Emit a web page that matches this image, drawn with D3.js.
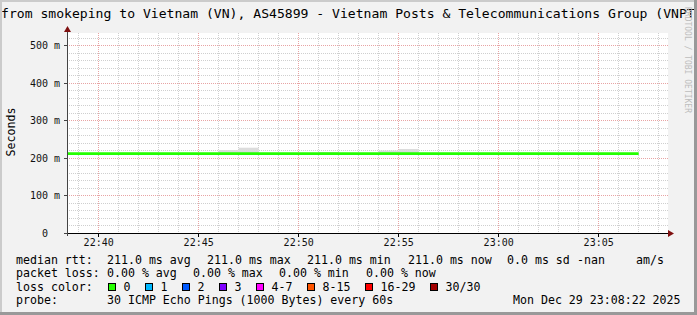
<!DOCTYPE html>
<html>
<head>
<meta charset="utf-8">
<script src="https://cdn.jsdelivr.net/npm/d3@7"></script>
<style>
  body { margin: 0; background: #f2f2f2; }
  svg text { font-family: "DejaVu Sans Mono", monospace; }
</style>
</head>
<body>
<svg id="chart" width="697" height="315"></svg>
<script>
// chart data
const stepTimes = ["22:38","22:39","22:40","22:41","22:42","22:43","22:44","22:45","22:46","22:47",
                   "22:48","22:49","22:50","22:51","22:52","22:53","22:54","22:55","22:56","22:57",
                   "22:58","22:59","23:00","23:01","23:02","23:03","23:04","23:05","23:06"];
const medianMs = [211,211,211,211,211,211,211,211,211,211,
                  211,211,211,211,211,211,211,211,211,211,
                  211,211,211,211,211,211,211,211,211];
// top of the smoke (slowest ping) per step
const smokeMaxMs = [211,211,211,214,214,211,211,211,220.7,226.9,
                    211,211,211,215.4,211,211,219.4,223.4,211,211,
                    211,211,211,211,211,211,211,211,211];
const smokeMinMs = [209,209,209,209,209,209,209,209,209,209,
                    209,209,209,209,209,209,209,209,209,209,
                    209,209,209,209,209,209,209,209,209];
const yTicks = [0, 0.1, 0.2, 0.3, 0.4, 0.5];
const xTickLabels = ["22:40","22:45","22:50","22:55","23:00","23:05"];

const title = "from smokeping to Vietnam (VN), AS45899 - Vietnam Posts & Telecommunications Group (VNPT)";
const rttStats = [["211.0 ms", "avg"], ["211.0 ms", "max"], ["211.0 ms", "min"], ["211.0 ms", "now"]];
const rttExtra = ["0.0 ms sd", "-nan", "am/s"];
const lossStats = [["0.00 %", "avg"], ["0.00 %", "max"], ["0.00 %", "min"], ["0.00 %", "now"]];
const lossLabels = ["0", "1", "2", "3", "4-7", "8-15", "16-29", "30/30"];
const lossColors = ["#26ff00", "#00b8ff", "#0059ff", "#7e00ff", "#ff00ff", "#ff5500", "#ff0000", "#a10000"];
const probeText = "30 ICMP Echo Pings (1000 Bytes) every 60s";
const stamp = "Mon Dec 29 23:08:22 2025";

const svg = d3.select('#chart');
const W = 697, H = 315;

let day = d3.timeParse('%Y-%m-%d %H:%M');
let toDate = function(t) { return day('2025-12-29 ' + t); };

// plot frame
const pLeft = 67, pRight = 667, pTop = 33, pBottom = 233;
let x = d3.scaleTime()
    .domain([new Date(2025, 11, 29, 22, 38, 25), new Date(2025, 11, 29, 23, 8, 25)])
    .range([pLeft, pRight]);
let y = d3.scaleLinear()
    .domain([0, 0.532])
    .range([pBottom, pTop]);

svg.append('rect').attr('width', W).attr('height', H).attr('fill', '#f2f2f2');

// canvas
svg.append('rect')
    .attr('x', pLeft).attr('y', pTop)
    .attr('width', pRight - pLeft + 1).attr('height', pBottom - pTop)
    .attr('fill', '#ffffff');

let grid = svg.append('g').attr('class', 'grid');

// minor vertical grid, every minute
let minutes = d3.timeMinute.range(x.domain()[0], x.domain()[1]);
grid.selectAll('.vminor')
    .data(minutes.filter(d => d.getMinutes() % 5 != 0))
    .enter().append('line')
    .attr('x1', d => Math.floor(x(d)) + 0.5).attr('x2', d => Math.floor(x(d)) + 0.5)
    .attr('y1', pTop).attr('y2', pBottom)
    .attr('stroke', '#cfcfcf').attr('stroke-dasharray', '1,1');

// minor horizontal grid, every 20 ms
let minorY = d3.range(0, 27).map(i => i * 0.02).filter(v => Math.round(v * 1000) % 100 != 0 && y(v) >= pTop);
grid.selectAll('.hminor')
    .data(minorY)
    .enter().append('line')
    .attr('x1', pLeft).attr('x2', pRight + 1)
    .attr('y1', d => Math.round(y(d)) + 0.5).attr('y2', d => Math.round(y(d)) + 0.5)
    .attr('stroke', '#cfcfcf').attr('stroke-dasharray', '1,1');

// major grid
grid.selectAll('.vmajor')
    .data(minutes.filter(d => d.getMinutes() % 5 == 0))
    .enter().append('line')
    .attr('x1', d => Math.floor(x(d)) + 0.5).attr('x2', d => Math.floor(x(d)) + 0.5)
    .attr('y1', pTop).attr('y2', pBottom)
    .attr('stroke', '#e8a4a4').attr('stroke-dasharray', '1,1');
grid.selectAll('.hmajor')
    .data(yTicks.filter(d => d > 0))
    .enter().append('line')
    .attr('x1', pLeft).attr('x2', pRight + 1)
    .attr('y1', d => Math.round(y(d)) + 0.5).attr('y2', d => Math.round(y(d)) + 0.5)
    .attr('stroke', '#e8a4a4').attr('stroke-dasharray', '1,1');

// smoke and median, one step per minute
let steps = stepTimes.map(function(t, i) {
    let start = toDate(t);
    return { start: start, end: d3.timeMinute.offset(start, 1),
             median: medianMs[i] / 1000, hi: smokeMaxMs[i] / 1000, lo: smokeMinMs[i] / 1000 };
});
let clipX = function(d) { return Math.max(pLeft, x(d)); };

svg.append('g').attr('class', 'smoke')
    .selectAll('rect')
    .data(steps)
    .enter().append('rect')
    .attr('x', d => clipX(d.start))
    .attr('width', d => x(d.end) - clipX(d.start))
    .attr('y', d => y(d.hi))
    .attr('height', d => y(d.lo) - y(d.hi))
    .attr('fill', '#dcdcdc');

let stepLine = d3.line()
    .x(d => d[0]).y(d => d[1]);
let pts = [];
steps.forEach(function(d) {
    pts.push([clipX(d.start), y(d.median)]);
    pts.push([x(d.end), y(d.median)]);
});
svg.append('path')
    .attr('d', stepLine(pts))
    .attr('fill', 'none')
    .attr('stroke', '#26ff00')
    .attr('stroke-width', 2.8);

// axes
let axes = svg.append('g').attr('class', 'axes');
axes.append('line')
    .attr('x1', pLeft - 3).attr('x2', pRight + 2)
    .attr('y1', pBottom + 0.5).attr('y2', pBottom + 0.5)
    .attr('stroke', '#000');
axes.append('line')
    .attr('x1', pLeft + 0.5).attr('x2', pLeft + 0.5)
    .attr('y1', pBottom + 3).attr('y2', pTop - 2)
    .attr('stroke', '#444');
// arrows
axes.append('path')
    .attr('d', `M${pRight + 1},${pBottom - 3} L${pRight + 7},${pBottom + 0.5} L${pRight + 1},${pBottom + 4} Z`)
    .attr('fill', '#7f1010');
axes.append('path')
    .attr('d', `M${pLeft - 3},${pTop - 1} L${pLeft + 0.5},${pTop - 7} L${pLeft + 4},${pTop - 1} Z`)
    .attr('fill', '#7f1010');

// y ticks and labels
axes.selectAll('.ytick')
    .data(yTicks)
    .enter().append('line')
    .attr('x1', pLeft - 3).attr('x2', pLeft)
    .attr('y1', d => Math.round(y(d)) + 0.5).attr('y2', d => Math.round(y(d)) + 0.5)
    .attr('stroke', '#444');
axes.selectAll('.ylabel')
    .data(yTicks)
    .enter().append('text')
    .attr('x', d => d == 0 ? 48 : 60)
    .attr('y', d => Math.round(y(d)) + 4)
    .attr('text-anchor', 'end')
    .attr('font-size', '10px')
    .attr('fill', '#111')
    .text(d => d == 0 ? '0' : Math.round(d * 1000) + ' m');

// x ticks and labels
let xTicks = xTickLabels.map(toDate);
axes.selectAll('.xtick')
    .data(xTicks)
    .enter().append('line')
    .attr('x1', d => Math.floor(x(d)) + 0.5).attr('x2', d => Math.floor(x(d)) + 0.5)
    .attr('y1', pBottom).attr('y2', pBottom + 4)
    .attr('stroke', '#000');
axes.selectAll('.xlabel')
    .data(xTicks)
    .enter().append('text')
    .attr('x', d => x(d))
    .attr('y', 246)
    .attr('text-anchor', 'middle')
    .attr('font-size', '10px')
    .attr('fill', '#111')
    .text((d, i) => xTickLabels[i]);

svg.append('text')
    .attr('transform', 'translate(15,132) rotate(-90)')
    .attr('text-anchor', 'middle')
    .attr('font-size', '11.6px')
    .text('Seconds');

// title
svg.append('text')
    .attr('x', 1).attr('y', 18)
    .attr('font-size', '13.1px')
    .text(title);

// watermark
svg.append('text')
    .attr('transform', 'translate(685,7) rotate(90)')
    .attr('font-size', '8px')
    .attr('fill', '#bdbdbd')
    .text('RRDTOOL / TOBI OETIKER');

// legend
let legend = svg.append('g').attr('font-size', '11.6px').attr('fill', '#000');
let row = [263.5, 277, 290.5, 304];
let put = function(txt, px, py) {
    legend.append('text').attr('x', px).attr('y', py).text(txt);
};
put('median rtt:', 16, row[0]);
let rttX = [107, 207, 307, 408];
rttStats.forEach((d, i) => put(d[0] + ' ' + d[1], rttX[i], row[0]));
let extraX = [507, 577, 636];
rttExtra.forEach((d, i) => put(d, extraX[i], row[0]));

put('packet loss:', 16, row[1]);
let lossX = [107, 193, 279, 366];
lossStats.forEach((d, i) => put(d[0] + ' ' + d[1], lossX[i], row[1]));

put('loss color:', 16, row[2]);
let boxX = [108.5, 145.5, 182.5, 219.5, 256.5, 307.5, 365.5, 430.5];
lossLabels.forEach(function(lab, i) {
    legend.append('rect')
        .attr('x', boxX[i]).attr('y', 283.5)
        .attr('width', 7).attr('height', 7)
        .attr('fill', lossColors[i])
        .attr('stroke', '#000');
    put(lab, boxX[i] + 15, row[2]);
});

put('probe:', 16, row[3]);
put(probeText, 107, row[3]);
put(stamp, 513, row[3]);

// 3d frame
svg.append('rect').attr('x', 0).attr('y', 0).attr('width', W).attr('height', 2).attr('fill', '#cbcbcb');
svg.append('rect').attr('x', 0).attr('y', 0).attr('width', 2).attr('height', H).attr('fill', '#cbcbcb');
svg.append('rect').attr('x', 0).attr('y', H - 3).attr('width', W).attr('height', 3).attr('fill', '#999');
svg.append('rect').attr('x', W - 3).attr('y', 0).attr('width', 3).attr('height', H).attr('fill', '#999');
</script>
</body>
</html>
